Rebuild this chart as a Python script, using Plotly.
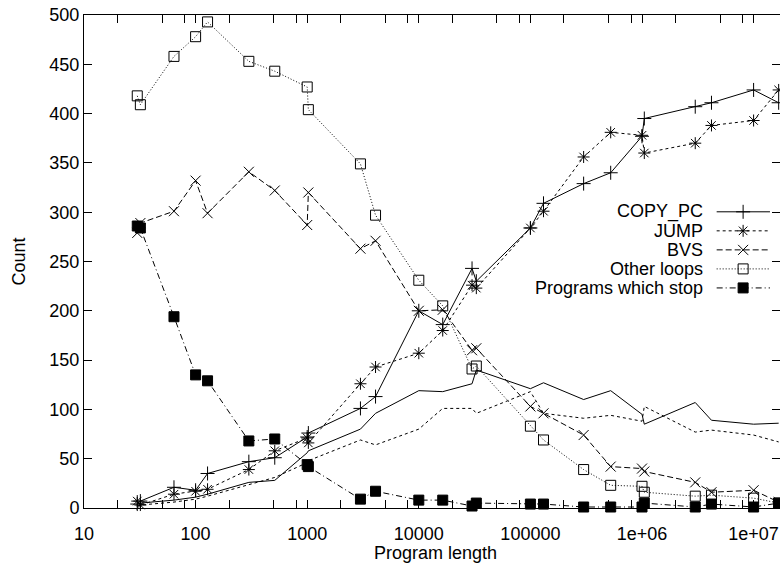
import plotly.graph_objects as go

# ---- data ----
program_length = [30, 32, 64, 100, 128, 300, 512, 1000, 1024, 3000, 4096, 10000, 16384,
                  30000, 32768, 100000, 131072, 300000, 524288, 1000000, 1048576,
                  3000000, 4194304, 10000000, 16777216]
copy_pc = [4, 7, 21, 18, 35, 47, 51, 72, 76, 101, 113, 200, 186, 243, 230, 284, 309, 329, 340, 377, 395, 407, 411, 424, 411]
jump = [7, 3, 14, 17, 19, 39, 58, 71, 66, 126, 143, 157, 180, 226, 223, 284, 301, 356, 381, 378, 360, 370, 388, 393, 424]
bvs = [279, 289, 301, 332, 299, 341, 322, 287, 320, 263, 271, 200, 201, 160, 162, 103, 96, 74, 42, 40, 37, 26, 16, 18, 6]
other_loops = [418, 409, 458, 478, 493, 453, 443, 427, 404, 349, 297, 231, 205, 141, 144, 83, 69, 39, 23, 22, 16, 12, 13, 10, 5]
programs_stop = [286, 284, 194, 135, 129, 68, 70, 44, 42, 9, 17, 8, 8, 2, 5, 4, 4, 1, 1, 1, 5, 1, 4, 1, 5]
plain_solid = [4, 5, 8, 11, 14, 26, 28, 56, 58, 80, 96, 119, 118, 126, 140, 121, 127, 110, 119, 95, 85, 107, 89, 85, 86]
plain_dashed = [2, 3, 6, 9, 12, 24, 31, 46, 48, 69, 64, 80, 101, 101, 96, 118, 96, 91, 94, 88, 103, 77, 79, 74, 67]

series_names = ["COPY_PC", "JUMP", "BVS", "Other loops", "Programs which stop"]
x_tickvals = [10, 100, 1000, 10000, 100000, 1000000, 10000000]
x_ticktext = ["10", "100", "1000", "10000", "100000", "1e+06", "1e+07"]
y_tickvals = list(range(0, 501, 50))
x_title = "Program length"
y_title = "Count"

FONT = "Liberation Sans, Arial, sans-serif"
FS = 18
INK = "#000000"
CLEAR = "rgba(0,0,0,0)"
X_RANGE = [1, 7.2366]
Y_RANGE = [0, 500]

styles = {
    "COPY_PC": dict(dash="solid", symbol="cross-thin-open", size=10),
    "JUMP": dict(dash="3px,3px", symbol="asterisk-open", size=10),
    "BVS": dict(dash="6px,3px", symbol="x-thin-open", size=10),
    "Other loops": dict(dash="1px,2px", symbol="square-open", size=10),
    "Programs which stop": dict(dash="6px,3px,1px,3px", symbol="square", size=10),
}
values = {"COPY_PC": copy_pc, "JUMP": jump, "BVS": bvs,
          "Other loops": other_loops, "Programs which stop": programs_stop}

fig = go.Figure()

# unmarked lines (bound to the label/tick overlay axes so those axes get drawn)
fig.add_trace(go.Scatter(x=program_length, y=plain_solid, mode="lines", xaxis="x2", yaxis="y",
                         line=dict(color=INK, width=1, dash="solid"), showlegend=False))
fig.add_trace(go.Scatter(x=program_length, y=plain_dashed, mode="lines", xaxis="x", yaxis="y2",
                         line=dict(color=INK, width=1, dash="3px,3px"), showlegend=False))

for name in series_names:
    st = styles[name]
    mk = dict(symbol=st["symbol"], size=st["size"], color=INK,
              line=dict(color=INK, width=1))
    fig.add_trace(go.Scatter(x=program_length, y=values[name], mode="lines+markers",
                             name=name, line=dict(color=INK, width=1, dash=st["dash"]),
                             marker=mk, showlegend=False, cliponaxis=False))

# custom gnuplot-style legend (text right, key left->right)
leg_y0 = 0.6008
leg_dy = 0.0386
text_x = 0.892
line_x0, line_x1, mark_x = 0.909, 0.9856, 0.947
for i, name in enumerate(series_names):
    st = styles[name]
    yy = leg_y0 - i * leg_dy
    fig.add_annotation(x=text_x, y=yy, xref="paper", yref="paper", text=name,
                       showarrow=False, xanchor="right", yanchor="middle",
                       font=dict(family=FONT, size=FS, color=INK))
    fig.add_shape(type="line", xref="paper", yref="paper", x0=line_x0, x1=line_x1,
                  y0=yy, y1=yy, line=dict(color=INK, width=1, dash=st["dash"]))
    fig.add_trace(go.Scatter(x=[mark_x], y=[yy], xaxis="x3", yaxis="y3", mode="markers",
                             marker=dict(symbol=st["symbol"], size=st["size"], color=INK,
                                         line=dict(color=INK, width=1)),
                             showlegend=False, hoverinfo="skip"))

# axis titles
fig.add_annotation(x=0.5057, y=-0.092, xref="paper", yref="paper", text=x_title,
                   showarrow=False, xanchor="center", yanchor="middle",
                   font=dict(family=FONT, size=FS, color=INK))
fig.add_annotation(x=-0.0934, y=0.5, xref="paper", yref="paper", text=y_title,
                   textangle=-90, showarrow=False, xanchor="center", yanchor="middle",
                   font=dict(family=FONT, size=FS, color=INK))

minor_vals = []
for d in range(1, 8):
    for m in (2, 5, 8):
        v = m * 10 ** d
        if v < 1.8e7:
            minor_vals.append(v)

fig.update_layout(
    width=780, height=567,
    margin=dict(l=84, r=0, t=15, b=59),
    paper_bgcolor="white", plot_bgcolor="white",
    font=dict(family=FONT, size=FS, color=INK),
    showlegend=False,
    xaxis=dict(type="log", range=X_RANGE, showgrid=False, zeroline=False,
               showline=True, linecolor=INK, linewidth=1, mirror="allticks",
               ticks="inside", ticklen=8, tickcolor=INK, tickwidth=1,
               tickvals=x_tickvals, showticklabels=False,
               minor=dict(tickvals=minor_vals, ticks="inside", ticklen=4,
                          tickcolor=INK, tickwidth=1, showgrid=False)),
    xaxis2=dict(type="log", range=X_RANGE, overlaying="x", side="bottom",
                showgrid=False, zeroline=False, showline=False,
                ticks="outside", ticklen=9, tickcolor=CLEAR, tickwidth=1,
                tickvals=x_tickvals, ticktext=x_ticktext,
                tickfont=dict(family=FONT, size=FS, color=INK)),
    yaxis=dict(range=Y_RANGE, showgrid=False, zeroline=False,
               showline=True, linecolor=INK, linewidth=1, mirror=False,
               ticks="inside", ticklen=8, tickcolor=INK, tickwidth=1,
               tickvals=y_tickvals,
               tickfont=dict(family=FONT, size=FS, color=INK)),
    yaxis2=dict(range=Y_RANGE, overlaying="y", side="right", showgrid=False,
                zeroline=False, showline=False, ticks="inside", ticklen=8,
                tickcolor=INK, tickwidth=1, tickvals=y_tickvals, showticklabels=False),
    xaxis3=dict(range=[0, 1], overlaying="x", visible=False, domain=[0, 1]),
    yaxis3=dict(range=[0, 1], overlaying="y", visible=False, domain=[0, 1]),
)

fig.write_html("out.html")
